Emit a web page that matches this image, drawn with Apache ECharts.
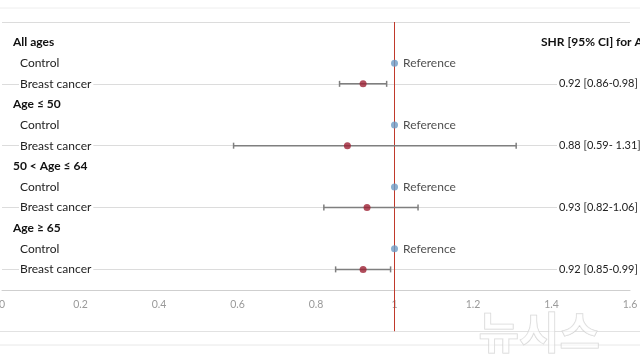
<!DOCTYPE html>
<html><head><meta charset="utf-8">
<script src="https://cdn.jsdelivr.net/npm/echarts@6/dist/echarts.min.js"></script>
<style>html,body{margin:0;padding:0;background:#fff}#c{width:640px;height:360px}</style>
</head><body><div id="c"></div>
<script>
// Rows from top to bottom
const rowLabels = ['All ages','Control','Breast cancer','Age ≤ 50','Control','Breast cancer','50 < Age ≤ 64','Control','Breast cancer','Age ≥ 65','Control','Breast cancer'];
const rowIsHeader = [true,false,false,true,false,false,true,false,false,true,false,false];
const rightText = ['SHR [95% CI] for AD','','0.92 [0.86-0.98]','','','0.88 [0.59- 1.31]','','','0.93 [0.82-1.06]','','','0.92 [0.85-0.99]'];
// Breast cancer rows
const bcRows = [2,5,8,11];
const bcShr = [0.92,0.88,0.93,0.92];
const bcLow = [0.86,0.59,0.82,0.85];
const bcHigh = [0.98,1.31,1.06,0.99];
// Control rows (reference = 1)
const ctrlRows = [1,4,7,10];
const ctrlValue = 1;
const xTicks = [0,0.2,0.4,0.6,0.8,1,1.2,1.4,1.6];
// reference line extent (y units, from top of plot to below the axis labels)
const refLineTop = 13, refLineBottom = -2;

const N = rowLabels.length;
const yOf = r => N - r;   // row index -> y value
const FONT = 'Lato';

const chart = echarts.init(document.getElementById('c'));
chart.setOption({
  animation:false,
  textStyle:{fontFamily:FONT},
  grid:{left:2,right:10,top:22,bottom:70,containLabel:false,outerBoundsMode:'none'},
  xAxis:{type:'value',min:0,max:1.6,interval:0.2,
    axisLine:{onZero:false,lineStyle:{color:'#cfcfcf',width:1}},
    axisTick:{show:false},splitLine:{show:false},
    axisLabel:{color:'#9a9a9a',fontSize:10.5,margin:9,fontFamily:FONT,
      formatter:v=>{const t=xTicks.find(x=>Math.abs(x-v)<1e-6);return t===undefined?'':String(t);}}
  },
  yAxis:[{type:'value',min:0,max:N+1,interval:1,position:'left',
    axisLine:{show:false},axisTick:{show:false},
    splitLine:{show:true,lineStyle:{color:['rgba(0,0,0,0)','#dcdcdc','rgba(0,0,0,0)'],width:1}},
    axisLabel:{inside:true,margin:11,align:'left',
      formatter:v=>{const r=N-Math.round(v);if(r<0||r>=N)return '';
        return rowIsHeader[r]?'{h|'+rowLabels[r]+'}':'{sp|}{c|'+rowLabels[r]+'}';},
      rich:{h:{fontWeight:'bold',fontSize:12,color:'#111',fontFamily:FONT},
        sp:{width:6},
        c:{fontSize:12,color:'#222',backgroundColor:'#fff',padding:[1,2,1,1],fontFamily:FONT}}}
  },{type:'value',min:0,max:N+1,interval:1,position:'right',
    axisLine:{show:false},axisTick:{show:false},splitLine:{show:false},
    axisLabel:{inside:true,margin:89,align:'left',
      formatter:v=>{const r=N-Math.round(v);if(r<0||r>=N||!rightText[r])return '';
        return rowIsHeader[r]?'{h|'+rightText[r]+'}':'{sp|}{c|'+rightText[r]+'}';},
      rich:{h:{fontWeight:'bold',fontSize:12,color:'#111',fontFamily:FONT},
        sp:{width:16},
        c:{fontSize:11,color:'#222',backgroundColor:'#fff',padding:[1,3,1,2],fontFamily:FONT}}}
  }],
  graphic:[
    {type:'line',shape:{x1:0,y1:8,x2:640,y2:8},style:{stroke:'#eeeeee',lineWidth:1},silent:true},
    {type:'line',shape:{x1:0,y1:331.5,x2:640,y2:331.5},style:{stroke:'#e2e2e2',lineWidth:1},silent:true},
    {type:'line',shape:{x1:0,y1:345,x2:640,y2:345},style:{stroke:'#e8e8e8',lineWidth:1},silent:true},
    {type:'text',left:478,top:310,z:100,silent:true,
      style:{text:'뉴시스',font:'bold 44px "Noto Sans CJK KR"',fill:'rgba(255,255,255,0.55)',stroke:'rgba(200,200,200,0.8)',lineWidth:1}}
  ],
  series:[
    {type:'custom',name:'RefLine',z:1,clip:false,silent:true,
      data:[[ctrlValue,refLineTop,refLineBottom]],
      encode:{x:0,y:1},
      renderItem:(params,api)=>{
        const a=api.coord([api.value(0),api.value(1)]);
        const b=api.coord([api.value(0),api.value(2)]);
        return {type:'line',shape:{x1:a[0],y1:a[1],x2:b[0],y2:b[1]},style:{stroke:'#c0392b',lineWidth:1}};
      }},
    {type:'custom',name:'CI',z:2,
      data:bcRows.map((r,i)=>[bcLow[i],bcHigh[i],yOf(r)]),
      encode:{x:[0,1],y:2},
      renderItem:(params,api)=>{
        const a=api.coord([api.value(0),api.value(2)]);
        const b=api.coord([api.value(1),api.value(2)]);
        const st={stroke:'#7f7f7f',lineWidth:1.5};
        return {type:'group',children:[
          {type:'line',shape:{x1:a[0],y1:a[1],x2:b[0],y2:b[1]},style:st},
          {type:'line',shape:{x1:a[0],y1:a[1]-3,x2:a[0],y2:a[1]+3},style:st},
          {type:'line',shape:{x1:b[0],y1:b[1]-3,x2:b[0],y2:b[1]+3},style:st}
        ]};
      }},
    {type:'scatter',name:'Breast cancer',z:4,symbolSize:7,
      itemStyle:{color:'#9e2234'},
      data:bcRows.map((r,i)=>[bcShr[i],yOf(r)])},
    {type:'scatter',name:'Control',z:4,symbolSize:7,clip:false,
      itemStyle:{color:'#6b9bc6'},
      label:{show:true,position:'right',distance:5,formatter:'Reference',color:'#222',fontSize:12,fontFamily:FONT},
      data:ctrlRows.map(r=>[ctrlValue,yOf(r)])}
  ]
});
</script></body></html>
